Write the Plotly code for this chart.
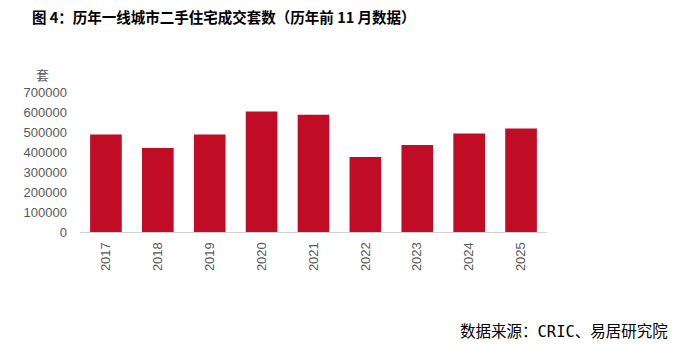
import plotly.graph_objects as go

# First-tier cities: second-hand housing transactions, Jan–Nov of each year (units)
years = ["2017", "2018", "2019", "2020", "2021", "2022", "2023", "2024", "2025"]
deals = [487000, 420000, 487000, 602000, 586000, 375000, 435000, 492000, 517000]
y_ticks = [0, 100000, 200000, 300000, 400000, 500000, 600000, 700000]

W, H = 674, 345
BAR = "#C00D25"
GREY = "#595959"

fig = go.Figure(
    go.Bar(
        x=years,
        y=deals,
        marker=dict(color=BAR, line=dict(width=0)),
        width=0.61,
    )
)

fig.update_layout(
    width=W,
    height=H,
    margin=dict(l=0, r=0, t=0, b=0, autoexpand=False),
    paper_bgcolor="white",
    plot_bgcolor="white",
    showlegend=False,
    font=dict(family="Liberation Sans, Arial, sans-serif", size=13, color=GREY),
    bargap=0.39,
)

fig.update_xaxes(
    domain=[80 / W, 547 / W],
    type="category",
    automargin=False,
    showline=True,
    linecolor="#D0D0D0",
    linewidth=1,
    showgrid=False,
    ticks="",
    tickangle=-90,
    tickfont=dict(size=13, color=GREY),
    ticklabelstandoff=4,
)

fig.update_yaxes(
    domain=[(H - 232) / H, (H - 92) / H],
    range=[0, 700000],
    automargin=False,
    tickvals=y_ticks,
    ticktext=[str(v) for v in y_ticks],
    showgrid=False,
    zeroline=False,
    showline=False,
    ticks="",
    tickfont=dict(size=13, color=GREY),
    ticklabelstandoff=12,
)

# Unit label above the value axis
fig.add_annotation(
    x=42 / W, y=1 - 74 / H, xref="paper", yref="paper",
    text="套", showarrow=False, xanchor="center", yanchor="middle",
    font=dict(family="Noto Sans CJK SC", size=13, color=GREY),
)

# Title
fig.add_annotation(
    x=30 / W, y=1 - 17 / H, xref="paper", yref="paper",
    text="<b>图 4：历年一线城市二手住宅成交套数（历年前 11 月数据）</b>",
    showarrow=False, xanchor="left", yanchor="middle",
    font=dict(family="Noto Sans CJK SC", size=14.5, color="black"),
)

# Source note
fig.add_annotation(
    x=670 / W, y=1 - 330 / H, xref="paper", yref="paper",
    text="数据来源：<span style=\"font-family:'DejaVu Sans Mono'\">CRIC</span>、易居研究院",
    showarrow=False, xanchor="right", yanchor="middle",
    font=dict(family="Noto Sans CJK SC", size=15.5, color="black"),
)

fig.write_html("out.html")
